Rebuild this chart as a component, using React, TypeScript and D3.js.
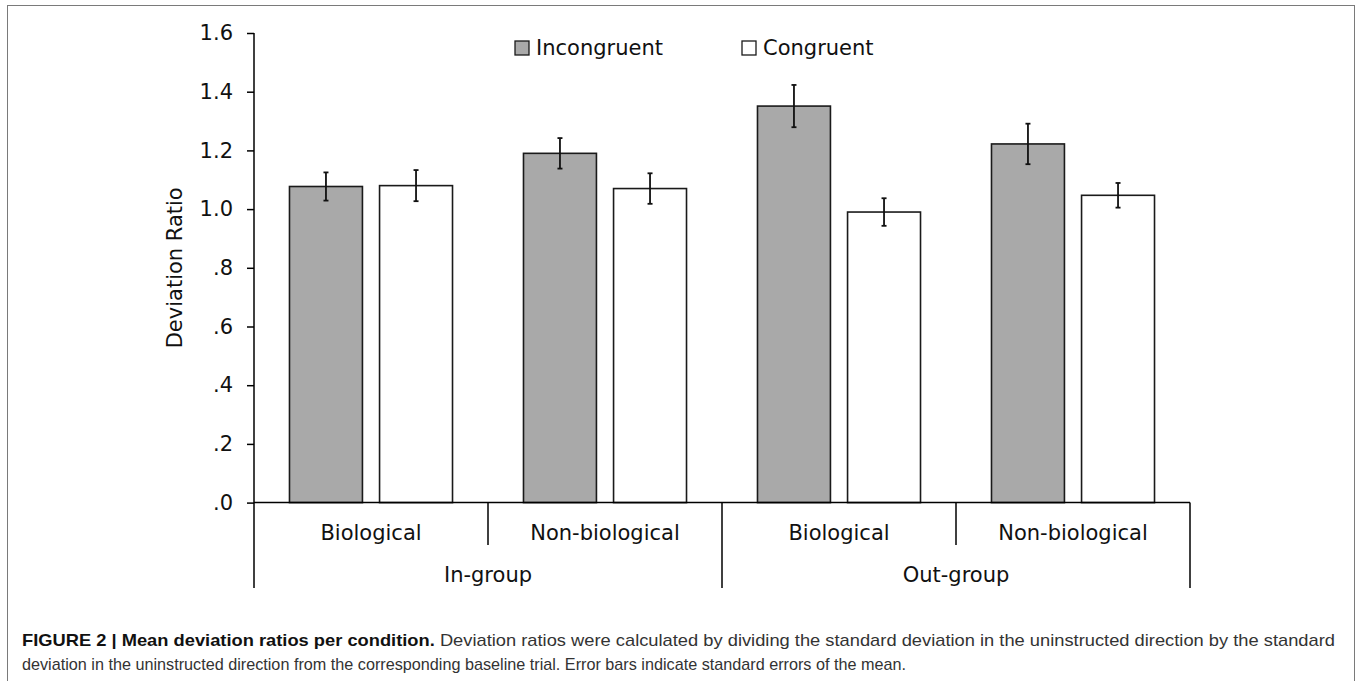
import React, { useRef, useEffect } from "react";
import * as d3 from "d3";

const groups = ["In-group", "Out-group"];
const categories = ["Biological", "Non-biological", "Biological", "Non-biological"];
const categoryGroup = [0, 0, 1, 1];
const seriesNames = ["Incongruent", "Congruent"];
const incongruent = [1.077, 1.19, 1.351, 1.222];
const congruent = [1.08, 1.07, 0.99, 1.047];
const incongruentSE = [0.048, 0.052, 0.072, 0.069];
const congruentSE = [0.053, 0.052, 0.047, 0.042];
const yTicks = [0, 0.2, 0.4, 0.6, 0.8, 1.0, 1.2, 1.4, 1.6];

const W = 1358;
const H = 681;

const Chart: React.FC = () => {
  const svgRef = useRef<SVGSVGElement | null>(null);

  useEffect(() => {
    const svg = d3.select(svgRef.current);
    svg.selectAll("*").remove();

    const left = 254;
    const right = 1190;
    const top = 33;
    const bottom = 502.6;
    const font = "'DejaVu Sans', Verdana, sans-serif";
    const fs = 21;

    // figure frame
    svg.append("rect")
      .attr("x", 7.5).attr("y", 5.5)
      .attr("width", 1347).attr("height", 700)
      .attr("fill", "none").attr("stroke", "#7a7a7a").attr("stroke-width", 1);

    const x = d3.scaleBand<number>()
      .domain(categories.map((_, i) => i))
      .range([left, right])
      .padding(0);

    const xSub = d3.scaleBand<string>()
      .domain(seriesNames)
      .range([0, x.bandwidth()])
      .paddingInner(0.19)
      .paddingOuter(0.394);

    const y = d3.scaleLinear().domain([0, 1.6]).range([bottom, top]);

    const fmt = (v: number) => (v < 1 ? d3.format(".1f")(v).replace(/^0/, "") : d3.format(".1f")(v));

    // y axis
    const yAxis = svg.append("g")
      .attr("transform", `translate(${left},0)`)
      .call(d3.axisLeft(y).tickValues(yTicks).tickFormat((d) => fmt(d as number)).tickSize(7).tickPadding(14));
    yAxis.select(".domain").remove();
    yAxis.selectAll(".tick line").attr("stroke", "#000").attr("stroke-width", 1.5);
    yAxis.selectAll(".tick text")
      .attr("fill", "#111")
      .style("font-family", font)
      .style("font-size", `${fs}px`);

    svg.append("line")
      .attr("x1", left).attr("x2", left)
      .attr("y1", top).attr("y2", 588)
      .attr("stroke", "#000").attr("stroke-width", 1.5);

    svg.append("text")
      .attr("transform", `translate(182,${(top + bottom) / 2}) rotate(-90)`)
      .attr("text-anchor", "middle")
      .style("font-family", font)
      .style("font-size", `${fs}px`)
      .attr("fill", "#111")
      .text("Deviation Ratio");

    // bars
    const values = [incongruent, congruent];
    const errors = [incongruentSE, congruentSE];
    const fills = ["#a9a9a9", "#ffffff"];

    seriesNames.forEach((s, si) => {
      const g = svg.append("g");
      categories.forEach((_, ci) => {
        const bx = (x(ci) as number) + (xSub(s) as number);
        const bw = xSub.bandwidth();
        const v = values[si][ci];
        g.append("rect")
          .attr("x", bx).attr("y", y(v))
          .attr("width", bw).attr("height", y(0) - y(v))
          .attr("fill", fills[si])
          .attr("stroke", "#1a1a1a").attr("stroke-width", 1.6);
        const cx = bx + bw / 2;
        const e = errors[si][ci];
        g.append("line")
          .attr("x1", cx).attr("x2", cx)
          .attr("y1", y(v + e)).attr("y2", y(v - e))
          .attr("stroke", "#111").attr("stroke-width", 1.8);
        [v + e, v - e].forEach((ev) => {
          g.append("line")
            .attr("x1", cx - 2.5).attr("x2", cx + 2.5)
            .attr("y1", y(ev)).attr("y2", y(ev))
            .attr("stroke", "#111").attr("stroke-width", 1.8);
        });
      });
    });

    // x axis baseline
    svg.append("line")
      .attr("x1", left).attr("x2", right)
      .attr("y1", bottom).attr("y2", bottom)
      .attr("stroke", "#000").attr("stroke-width", 1.5);

    // category separators and labels
    categories.forEach((c, i) => {
      const x0 = x(i) as number;
      const x1 = x0 + x.bandwidth();
      const isGroupEdge = (j: number) => j === 0 || j === categories.length || categoryGroup[j] !== categoryGroup[j - 1];
      if (i > 0) {
        svg.append("line")
          .attr("x1", x0).attr("x2", x0)
          .attr("y1", bottom).attr("y2", isGroupEdge(i) ? 588 : 545)
          .attr("stroke", "#000").attr("stroke-width", 1.5);
      }
      if (i === categories.length - 1) {
        svg.append("line")
          .attr("x1", x1).attr("x2", x1)
          .attr("y1", bottom).attr("y2", 588)
          .attr("stroke", "#000").attr("stroke-width", 1.5);
      }
      svg.append("text")
        .attr("x", (x0 + x1) / 2).attr("y", 540)
        .attr("text-anchor", "middle")
        .style("font-family", font)
        .style("font-size", `${fs}px`)
        .attr("fill", "#111")
        .text(c);
    });

    groups.forEach((gName, gi) => {
      const idx = categories.map((_, i) => i).filter((i) => categoryGroup[i] === gi);
      const x0 = x(idx[0]) as number;
      const x1 = (x(idx[idx.length - 1]) as number) + x.bandwidth();
      svg.append("text")
        .attr("x", (x0 + x1) / 2).attr("y", 582)
        .attr("text-anchor", "middle")
        .style("font-family", font)
        .style("font-size", `${fs}px`)
        .attr("fill", "#111")
        .text(gName);
    });

    // legend
    const legendX = [515, 742];
    seriesNames.forEach((s, si) => {
      svg.append("rect")
        .attr("x", legendX[si]).attr("y", 41)
        .attr("width", 14).attr("height", 14)
        .attr("fill", fills[si])
        .attr("stroke", "#1a1a1a").attr("stroke-width", 1.3);
      svg.append("text")
        .attr("x", legendX[si] + 21).attr("y", 55)
        .style("font-family", font)
        .style("font-size", `${fs}px`)
        .attr("fill", "#111")
        .text(s);
    });

    // caption
    const capFont = "'Liberation Sans', Arial, Helvetica, sans-serif";
    const line1 = svg.append("text")
      .attr("x", 22).attr("y", 646)
      .attr("textLength", 1313)
      .attr("lengthAdjust", "spacingAndGlyphs")
      .style("font-family", capFont)
      .style("font-size", "17px")
      .attr("fill", "#333");
    line1.append("tspan")
      .style("font-weight", "bold")
      .attr("fill", "#111")
      .text("FIGURE 2 | Mean deviation ratios per condition.");
    line1.append("tspan")
      .text(" Deviation ratios were calculated by dividing the standard deviation in the uninstructed direction by the standard");

    svg.append("text")
      .attr("x", 22).attr("y", 670)
      .attr("textLength", 884)
      .attr("lengthAdjust", "spacingAndGlyphs")
      .style("font-family", capFont)
      .style("font-size", "17px")
      .attr("fill", "#333")
      .text("deviation in the uninstructed direction from the corresponding baseline trial. Error bars indicate standard errors of the mean.");
  }, []);

  return <svg ref={svgRef} width={W} height={H} style={{ display: "block" }} />;
};

export default function App() {
  return (
    <div style={{ position: "absolute", left: 0, top: 0, width: W, height: H, background: "#fff", overflow: "hidden" }}>
      <Chart />
    </div>
  );
}
